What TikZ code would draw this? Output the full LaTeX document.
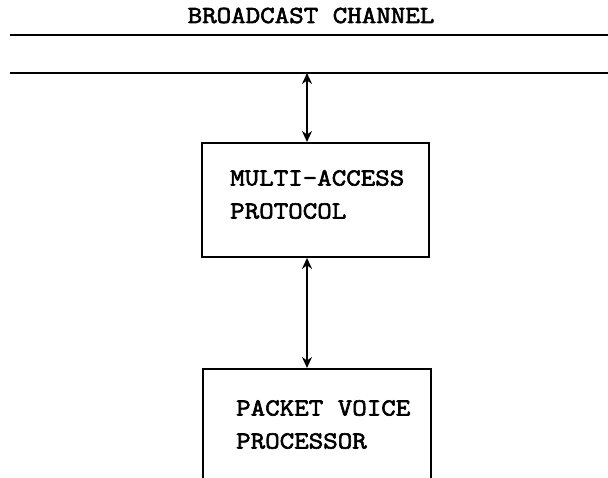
\documentclass[tikz,border=0pt]{standalone}
\usepackage{fontspec}
\newfontfamily\typewriter{Latin Modern Mono}[FakeStretch=1.15,FakeBold=2.5]
\usepackage{tikz}
\usetikzlibrary{calc}
\usetikzlibrary{arrows.meta}
\tikzset{block/.style={draw,line width=1.9,anchor=north west,inner sep=0}}
\tikzset{typed/.style={font=\typewriter\fontsize{24.5}{33}\selectfont,inner sep=0,align=left}}

\begin{document}
\begin{tikzpicture}[x=1pt,y=-1pt]
\clip (0,0) rectangle (608,478);
\node[typed,anchor=base] (title) at (311,23) {BROADCAST CHANNEL};
\draw[black,line width=2.6] (10,35)--(608,35);
\draw[black,line width=2.6] (10,73)--(608,73);
\coordinate (tap) at (307,73);
\node[block,minimum width=227,minimum height=114] (mac) at (201,142) {};
\node[block,minimum width=228,minimum height=150] (pvp) at (202,368) {};
\node[typed,anchor=north west] (mactext) at (230,170) {MULTI-ACCESS\\PROTOCOL};
\node[typed,anchor=north west] (pvptext) at (236,400) {PACKET VOICE\\PROCESSOR};
\draw[black,line width=2.2, <->, >={Stealth[length=11pt,width=10pt]}] (tap) -- (tap |- mac.north);
\draw[black,line width=2.2, <->, >={Stealth[length=11pt,width=10pt]}] (mac.south -| tap) -- (pvp.north -| tap);
\end{tikzpicture}
\end{document}
